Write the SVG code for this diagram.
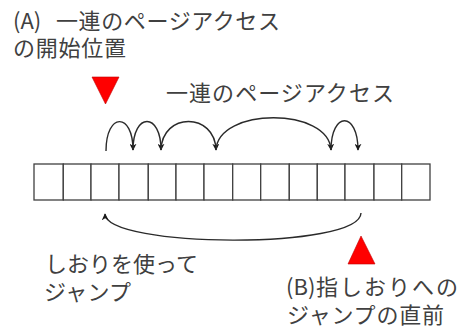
<svg xmlns="http://www.w3.org/2000/svg" width="465" height="329" viewBox="0 0 465 329">
<style>
text{font-family:"Noto Sans CJK JP","Noto Sans",sans-serif;font-size:22px;fill:#404040}
.cell{fill:#fff;stroke:#404040;stroke-width:1.3}
.arc{fill:none;stroke:#2a2a2a;stroke-width:1.4}
.mark{fill:#ff0000;stroke:#c00000;stroke-width:0.6}
</style>
<defs>
<marker id="ah" viewBox="0 0 10 10" refX="9" refY="5" markerWidth="7" markerHeight="7" markerUnits="userSpaceOnUse" orient="auto">
<path d="M0,0 L10,5 L0,10 L3,5 Z" fill="#1a1a1a"/>
</marker>
</defs>
<rect width="465" height="329" fill="#fff"/>
<g id="labelA">
<text x="13" y="29">(A)</text>
<text x="56" y="29" textLength="224" lengthAdjust="spacing">一連のページアクセス</text>
<text x="13" y="56" textLength="113" lengthAdjust="spacing">の開始位置</text>
</g>
<g id="markerA"><polygon class="mark" points="92,77 119,77 105.5,104"/></g>
<g id="labelSeq"><text x="166" y="101" textLength="228" lengthAdjust="spacing">一連のページアクセス</text></g>
<g id="pages">
<rect class="cell" x="34" y="164" width="29.3" height="36"/>
<rect class="cell" x="63.3" y="164" width="27.7" height="36"/>
<rect class="cell" x="91" y="164" width="28" height="36"/>
<rect class="cell" x="119" y="164" width="29.3" height="36"/>
<rect class="cell" x="148.3" y="164" width="27.7" height="36"/>
<rect class="cell" x="176" y="164" width="28" height="36"/>
<rect class="cell" x="204" y="164" width="28.7" height="36"/>
<rect class="cell" x="232.7" y="164" width="28" height="36"/>
<rect class="cell" x="260.7" y="164" width="28.6" height="36"/>
<rect class="cell" x="289.3" y="164" width="28" height="36"/>
<rect class="cell" x="317.3" y="164" width="27.7" height="36"/>
<rect class="cell" x="345" y="164" width="29" height="36"/>
<rect class="cell" x="374" y="164" width="27.7" height="36"/>
<rect class="cell" x="401.7" y="164" width="28.3" height="36"/>
</g>
<g id="connectors">
<path class="arc" marker-end="url(#ah)" d="M106,151 C106,112 133,112 133,150"/>
<path class="arc" marker-end="url(#ah)" d="M133,150 C133,112 161,112 161,150"/>
<path class="arc" marker-end="url(#ah)" d="M161,150 C162,112 215,112 216,150"/>
<path class="arc" marker-end="url(#ah)" d="M216,150 C218,107 329,107 331,150"/>
<path class="arc" marker-end="url(#ah)" d="M331,150 C331,111 358,111 358,150"/>
<path class="arc" marker-end="url(#ah)" d="M361,213 C360,250 106,248 105,214"/>
</g>
<g id="markerB"><polygon class="mark" points="361,236 348,264 375,264"/></g>
<g id="labelJump">
<text x="45" y="272" textLength="153" lengthAdjust="spacing">しおりを使って</text>
<text x="44" y="300" textLength="87" lengthAdjust="spacing">ジャンプ</text>
</g>
<g id="labelB">
<text x="286" y="295">(B)</text>
<text x="316" y="295" textLength="142" lengthAdjust="spacing">指しおりへの</text>
<text x="287" y="323" textLength="157" lengthAdjust="spacing">ジャンプの直前</text>
</g>
</svg>
